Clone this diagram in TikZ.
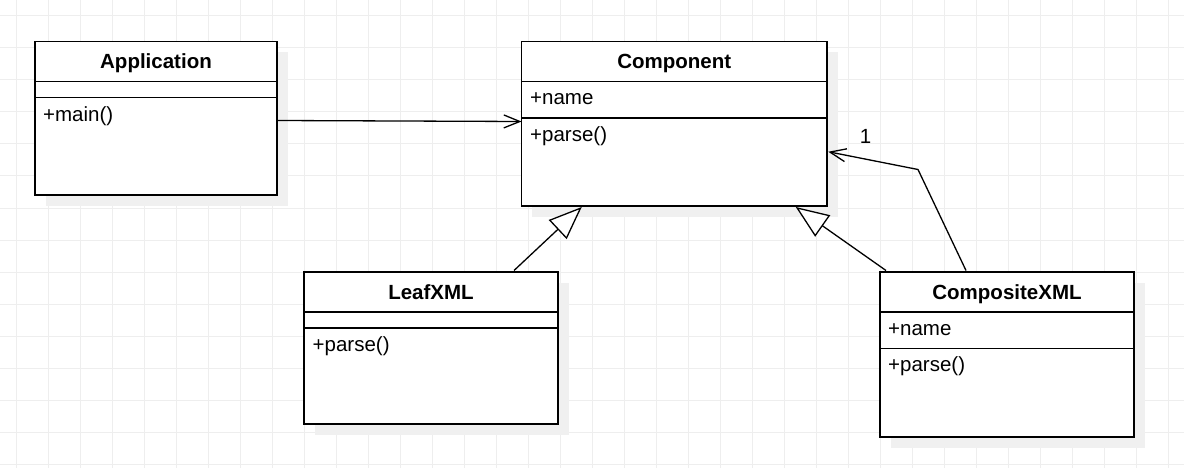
\documentclass[tikz,border=0pt]{standalone}
\usepackage{fontspec}
\setmainfont{Liberation Sans}
\usetikzlibrary{arrows.meta}
\definecolor{gridgray}{RGB}{238,238,238}
\definecolor{shadowgray}{RGB}{240,240,240}
\tikzset{
  gridline/.style={draw=gridgray, line width=1pt},
  classbox/.style={draw=black, fill=white, line width=1.6pt, anchor=north west, inner sep=0pt, outer sep=0pt},
  shadowbox/.style={fill=shadowgray, draw=none},
  divider/.style={draw=black, line width=1.6pt},
  title/.style={font=\fontsize{20.5}{24}\selectfont\bfseries, anchor=base, inner sep=0pt},
  member/.style={font=\fontsize{20.5}{24}\selectfont, anchor=base west, inner sep=0pt},
  assoc/.style={draw=black, line width=1.3pt, -{Straight Barb[length=16pt,width=13pt]}},
  gen/.style={draw=black, line width=1.3pt, -{Triangle[open,fill=white,length=33pt,width=26pt]}}
}
\begin{document}
\begin{tikzpicture}[x=1pt,y=-1pt]
\useasboundingbox (0,0) rectangle (1184,468);
\fill[white] (0,0) rectangle (1184,468);
% grid
\foreach \gx in {16,48,...,1168} \draw[gridline] (\gx,0) -- (\gx,468);
\foreach \gy in {16,48,...,464} \draw[gridline] (0,\gy) -- (1184,\gy);
% shadows
\fill[shadowbox] (45.5,52) rectangle (287.5,205.5);
\fill[shadowbox] (532,52) rectangle (837.5,216.5);
\fill[shadowbox] (314.5,282.5) rectangle (568.5,434.5);
\fill[shadowbox] (890.5,282.5) rectangle (1144.5,447.5);
% Application
\node[classbox, minimum width=242pt, minimum height=153.5pt] (app) at (35,41.5) {};
\draw[divider] (35,81.5) -- (277,81.5);
\draw[divider] (35,97.5) -- (277,97.5);
\node[title] (appT) at (156,68.3) {Application};
\node[member] (appM) at (43,121.7) {+main()};
% Component
\node[classbox, minimum width=305.5pt, minimum height=164.5pt] (comp) at (521.5,41.5) {};
\draw[divider] (521.5,81.5) -- (827,81.5);
\draw[divider] (521.5,118) -- (827,118);
\node[title] (compT) at (674.3,68.3) {Component};
\node[member] (compA) at (530,105) {+name};
\node[member] (compM) at (530,141.7) {+parse()};
% LeafXML
\node[classbox, minimum width=254pt, minimum height=152pt] (leaf) at (304,272) {};
\draw[divider] (304,312) -- (558,312);
\draw[divider] (304,328) -- (558,328);
\node[title] (leafT) at (431,299.3) {LeafXML};
\node[member] (leafM) at (312.5,351) {+parse()};
% CompositeXML
\node[classbox, minimum width=254pt, minimum height=165pt] (cxml) at (880,272) {};
\draw[divider] (880,312) -- (1134,312);
\draw[divider] (880,348.5) -- (1134,348.5);
\node[title] (cxmlT) at (1007,299.3) {CompositeXML};
\node[member] (cxmlA) at (888,335) {+name};
\node[member] (cxmlM) at (888,371) {+parse()};
% connectors
\draw[assoc] ([yshift=-2.25pt]app.east) -- ([yshift=2.25pt]comp.west);
\draw[gen] ([xshift=83pt,yshift=1.5pt]leaf.north) -- ([xshift=-92.5pt,yshift=-1pt]comp.south);
\draw[gen] ([xshift=-121pt,yshift=1.5pt]cxml.north) -- ([xshift=121.5pt,yshift=-1pt]comp.south);
\draw[assoc] ([xshift=-41pt,yshift=1.5pt]cxml.north) -- (918,169.5) -- ([xshift=1.3pt,yshift=-28pt]comp.east);
\node[font=\fontsize{20.5}{24}\selectfont, anchor=base, inner sep=0pt] (mult) at (865.5,143.3) {1};
\end{tikzpicture}
\end{document}
